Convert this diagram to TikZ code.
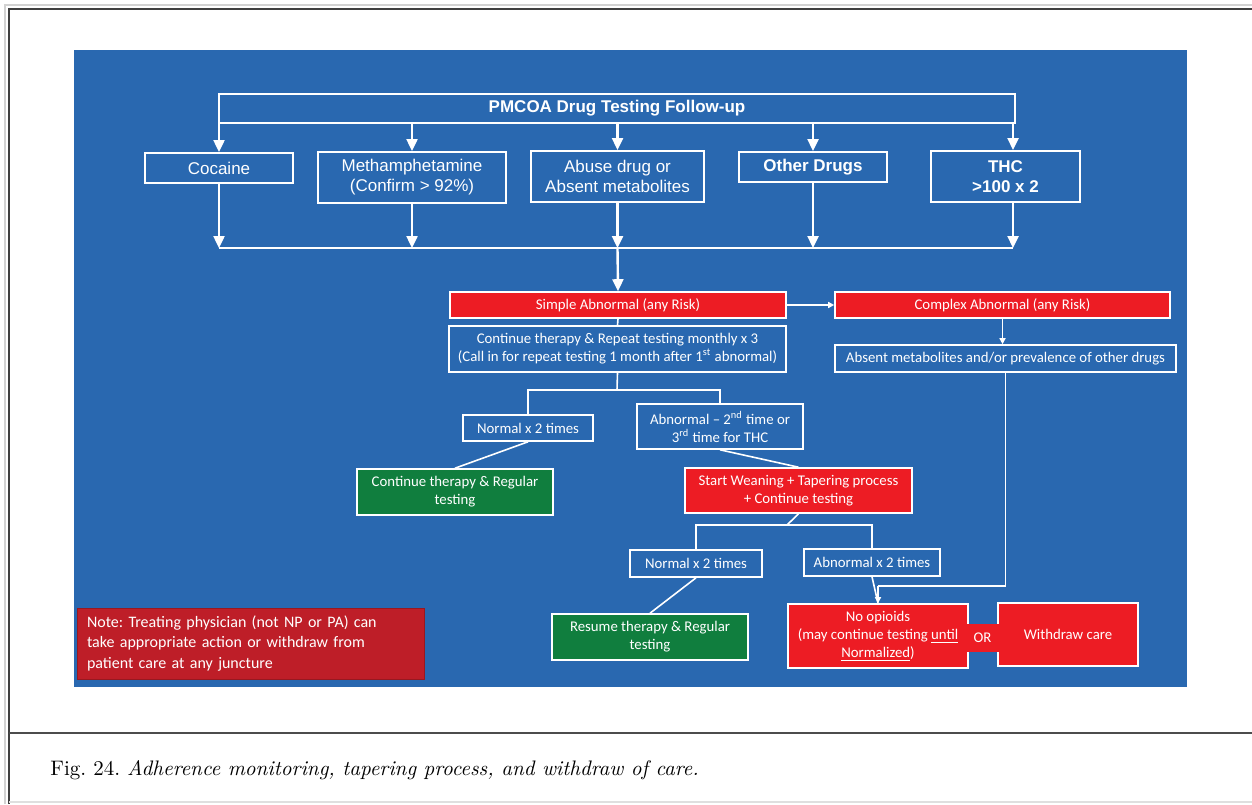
\documentclass[tikz,border=0pt]{standalone}
\usepackage{fontspec}
\usepackage{tikz}
\usetikzlibrary{
    positioning,
    arrows.meta,
    calc
}
\frenchspacing
\newfontfamily\arialf{Liberation Sans}
\newfontfamily\calf{Carlito}
\definecolor{panelBlue}{RGB}{41, 104, 176}
\definecolor{flowRed}{RGB}{237, 28, 36}
\definecolor{flowGreen}{RGB}{16, 126, 62}
\definecolor{noteRed}{RGB}{190, 30, 40}
\tikzset{
    topbox/.style={draw=white, line width=1pt, text=white, align=center, inner sep=0pt,
        font=\arialf\fontsize{8.5}{10}\selectfont},
    lowbox/.style={draw=white, line width=0.8pt, text=white, align=center, inner sep=0pt,
        font=\calf\fontsize{7.4}{9}\selectfont},
    redbox/.style={lowbox, fill=flowRed},
    greenbox/.style={lowbox, fill=flowGreen},
    bigarr/.style={white, line width=1.2pt, -{Triangle[length=6pt,width=5.5pt]}},
    smallarr/.style={white, line width=0.8pt, -{Triangle[length=3pt,width=3pt]}},
    wline/.style={white, line width=0.8pt}
}

\begin{document}
\begin{tikzpicture}[x=0.5pt, y=-0.5pt]
    \useasboundingbox (0,0) rectangle (1252,804);
    % page frame and caption
    \draw[gray!35, line width=0.6pt] (5,804) -- (5,5) -- (1252,5);
    \draw[black!75, line width=1pt] (9,804) -- (9,9) -- (1252,9);
    \draw[black!70, line width=1pt] (9,733) -- (1252,733);
    \draw[gray!25, line width=0.6pt] (9,802) -- (1252,802);
    \node[anchor=west, inner sep=0pt, font=\fontsize{10.5}{12}\selectfont] (caption) at (50,770)
        {Fig. 24. \textit{Adherence monitoring, tapering process, and withdraw of care.}};

    \fill[panelBlue] (74,50) rectangle (1187,687);

    % first tier
    \node[topbox, minimum width=398pt, minimum height=14.5pt, font=\arialf\bfseries\fontsize{8.5}{10}\selectfont] (title) at (617,108.5) {PMCOA Drug Testing Follow-up};
    \node[topbox, minimum width=74pt, minimum height=15pt] (coc) at (219,168) {Cocaine};
    \node[topbox, minimum width=94pt, minimum height=25.5pt] (meth) at (412,177.5) {Methamphetamine\\(Confirm > 92\%)};
    \node[topbox, minimum width=86.5pt, minimum height=25.5pt] (abuse) at (617.5,176.5) {Abuse drug or\\Absent metabolites};
    \node[topbox, minimum width=74pt, minimum height=15pt, font=\arialf\bfseries\fontsize{8.5}{10}\selectfont] (other) at (813,167) {Other Drugs};
    \node[topbox, minimum width=74.5pt, minimum height=25.5pt, font=\arialf\bfseries\fontsize{8.5}{10}\selectfont] (thc) at (1005.5,176.5) {THC\\>100 x 2};

    \coordinate (thcIn) at ([xshift=-1.5pt]title.south east);
    \foreach \b in {coc, meth, abuse, other}
        \draw[bigarr] (title.south -| \b.north) -- (\b.north);
    \draw[bigarr] (thcIn) -- (thcIn |- thc.north);

    \coordinate (barL) at (219,248);
    \coordinate (barR) at (thcIn |- barL);
    \foreach \b in {coc, meth, abuse, other}
        \draw[bigarr] (\b.south) -- (\b.south |- barL);
    \draw[bigarr] (thcIn |- thc.south) -- (barR);
    \draw[white, line width=1.2pt] (barL) -- (barR);

    % abnormal results
    \node[redbox, minimum width=168pt, minimum height=13pt] (simple) at (618,305) {Simple Abnormal (any Risk)};
    \node[redbox, minimum width=167.5pt, minimum height=13pt] (complex) at (1002.5,305) {Complex Abnormal (any Risk)};
    \node[lowbox, minimum width=168.5pt, minimum height=23pt] (cont) at (617.5,349) {Continue therapy \& Repeat testing monthly x 3\\(Call in for repeat testing 1 month after 1\textsuperscript{st} abnormal)};
    \node[lowbox, minimum width=170.5pt, minimum height=13.5pt] (absent) at (1005.5,358.5) {Absent metabolites and/or prevalence of other drugs};

    \draw[bigarr] (abuse.south |- barL) -- (simple.north);
    \draw[smallarr] (simple.east) -- (complex.west);
    \draw[wline] (simple.south) -- (cont.north);
    \draw[smallarr] (complex.south) -- (complex.south |- absent.north);

    \node[lowbox, minimum width=65pt, minimum height=13pt] (norm1) at (528,428) {Normal x 2 times};
    \node[lowbox, minimum width=83pt, minimum height=22.5pt] (abn1) at (720,426.5) {Abnormal \textendash{} 2\textsuperscript{nd} time or\\3\textsuperscript{rd} time for THC};
    \node[greenbox, minimum width=98pt, minimum height=23pt] (green1) at (455,492) {Continue therapy \& Regular\\testing};
    \node[redbox, minimum width=113.5pt, minimum height=22.5pt] (wean) at (798.5,490.5) {Start Weaning + Tapering process\\+ Continue testing};

    \coordinate (splitA) at (617,390);
    \draw[wline] (cont.south) -- (splitA);
    \draw[wline] (norm1.north) -- (norm1.north |- splitA) -- (abn1.north |- splitA) -- (abn1.north);
    \draw[wline] (norm1.south) -- (green1.north);
    \draw[wline] (abn1.south) -- (wean.north);

    % after tapering
    \node[lowbox, minimum width=66pt, minimum height=13.5pt] (norm2) at (696,563.5) {Normal x 2 times};
    \node[lowbox, minimum width=68pt, minimum height=13.5pt] (abn2) at (872,562.5) {Abnormal x 2 times};
    \node[greenbox, minimum width=98pt, minimum height=23pt] (green2) at (650,637) {Resume therapy \& Regular\\testing};
    \node[redbox, minimum width=90pt, minimum height=32pt] (noop) at (878,636) {No opioids\\(may continue testing \underline{until}\\\underline{Normalized})};
    \node[redbox, minimum width=70pt, minimum height=31.5pt] (withdraw) at (1068,634.5) {Withdraw care};
    \node[fill=flowRed, text=white, inner sep=0pt, minimum width=16.5pt, minimum height=14pt, font=\calf\fontsize{7.4}{9}\selectfont] (orbox) at (982.5,637.5) {OR};

    \coordinate (splitB) at (787,525);
    \coordinate (joinC) at (878,586);
    \draw[wline] (wean.south) -- (splitB);
    \draw[wline] (norm2.north) -- (norm2.north |- splitB) -- (abn2.north |- splitB) -- (abn2.north);
    \draw[wline] (norm2.south) -- (green2.north);
    \draw[wline] (abn2.south) -- (noop.north);
    \draw[wline] (absent.south) -- (absent.south |- joinC) -- (joinC);
    \draw[smallarr] (joinC) -- (noop.north);

    % note
    \node[fill=noteRed, draw=noteRed!80!black, line width=0.5pt, text=white, align=left, inner sep=0pt,
        minimum width=173.5pt, minimum height=35.5pt, text width=163.5pt,
        font=\calf\fontsize{8}{10.25}\selectfont] (note) at (250.5,643.5)
        {Note: Treating physician (not NP or PA) can\\take appropriate action or withdraw from\\patient care at any juncture};
\end{tikzpicture}
\end{document}
